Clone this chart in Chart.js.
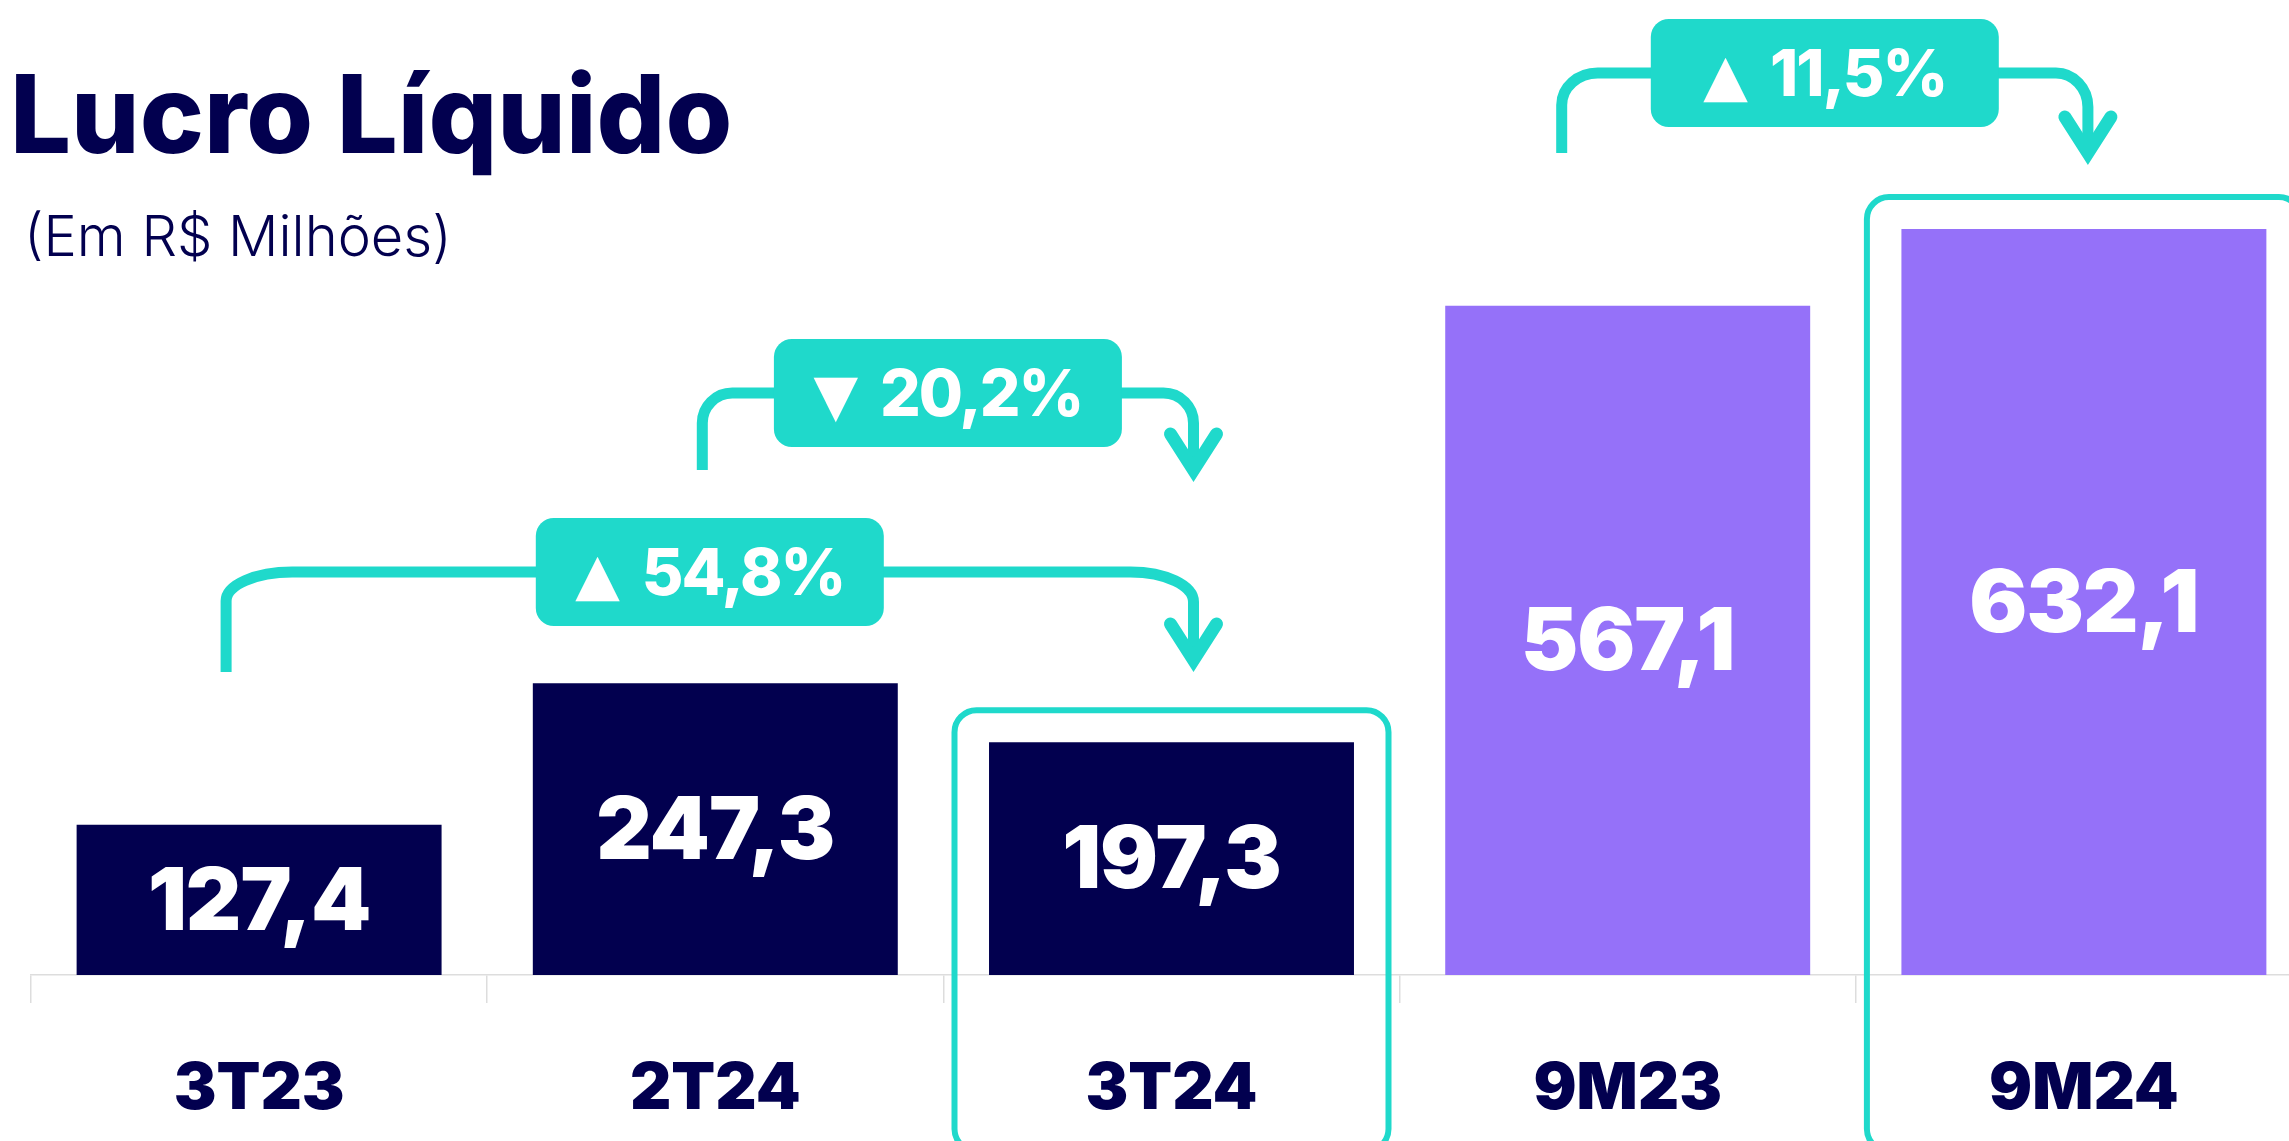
<!DOCTYPE html>
<html>
<head>
<meta charset="utf-8">
<script src="https://cdn.jsdelivr.net/npm/chart.js@4.4.1/dist/chart.umd.min.js"></script>
<style>
html, body { margin: 0; padding: 0; background: #fff; overflow: hidden; }
canvas { display: block; }
</style>
</head>
<body>
<canvas id="lucro" width="2320" height="1141"></canvas>
<script>
// dados
const periodos = ['3T23', '2T24', '3T24', '9M23', '9M24'];
const lucro = [127.4, 247.3, 197.3, 567.1, 632.1];
const destaques = [2, 4];
const variacoes = [
    { de: 0, para: 2, seta: '▲', texto: '54,8%' },
    { de: 1, para: 2, seta: '▼', texto: '20,2%' },
    { de: 3, para: 4, seta: '▲', texto: '11,5%' }
];

const NAVY = '#02004f';
const TEAL = '#1fd9cb';
const coresBarras = ['#02004f', '#02004f', '#02004f', '#9571f9', '#9571f9'];

const fmt = v => v.toFixed(1).replace('.', ',');

// geometria dos conectores (px)
const geo = [
    { dxL: -33, dxR: 22, yLine: 572, yStart: 672, yTip: 672, rL: [66, 29], rR: [63, 30] },
    { dxL: -13, dxR: 22, yLine: 393, yStart: 470, yTip: 482, rL: [30, 30], rR: [30, 30] },
    { dxL: -66, dxR: 4, yLine: 73, yStart: 153, yTip: 165, rL: [36, 32], rR: [32, 34] }
];

function conector(ctx, xl, xr, g) {
    const k = 0.4477;
    ctx.save();
    ctx.strokeStyle = TEAL;
    ctx.lineWidth = 11;
    ctx.lineCap = 'butt';
    ctx.beginPath();
    ctx.moveTo(xl, g.yStart);
    ctx.lineTo(xl, g.yLine + g.rL[1]);
    ctx.bezierCurveTo(xl, g.yLine + g.rL[1] * k, xl + g.rL[0] * k, g.yLine, xl + g.rL[0], g.yLine);
    ctx.lineTo(xr - g.rR[0], g.yLine);
    ctx.bezierCurveTo(xr - g.rR[0] * k, g.yLine, xr, g.yLine + g.rR[1] * k, xr, g.yLine + g.rR[1]);
    ctx.lineTo(xr, g.yTip - 12);
    ctx.stroke();
    ctx.lineWidth = 13;
    ctx.lineCap = 'round';
    ctx.lineJoin = 'miter';
    ctx.beginPath();
    ctx.moveTo(xr - 23, g.yTip - 48);
    ctx.lineTo(xr, g.yTip - 12);
    ctx.lineTo(xr + 23, g.yTip - 48);
    ctx.stroke();
    ctx.restore();
}

const extras = {
    id: 'extras',
    afterDatasetsDraw(chart) {
        const ctx = chart.ctx;
        const meta = chart.getDatasetMeta(0);
        ctx.save();
        ctx.fillStyle = '#fff';
        ctx.font = '900 86px Inter';
        ctx.letterSpacing = '-1px';
        ctx.textAlign = 'center';
        ctx.textBaseline = 'middle';
        meta.data.forEach((bar, i) => {
            ctx.fillText(fmt(lucro[i]), bar.x, (bar.y + bar.base) / 2 + 4);
        });
        ctx.restore();
    },
    afterDraw(chart) {
        const ctx = chart.ctx;
        const meta = chart.getDatasetMeta(0);

        // molduras de destaque
        ctx.save();
        ctx.strokeStyle = TEAL;
        ctx.lineWidth = 6;
        destaques.forEach(i => {
            const bar = meta.data[i];
            const top = bar.y - 32;
            ctx.beginPath();
            ctx.roundRect(bar.x - 217, top, 434, chart.height + 10 - top, 22);
            ctx.stroke();
        });
        ctx.restore();

        // variacoes
        variacoes.forEach((v, n) => {
            const g = geo[n];
            const xl = meta.data[v.de].x + g.dxL;
            const xr = meta.data[v.para].x + g.dxR;
            conector(ctx, xl, xr, g);
            const cx = (xl + xr) / 2;
            ctx.save();
            ctx.fillStyle = TEAL;
            ctx.beginPath();
            ctx.roundRect(cx - 174, g.yLine - 54, 348, 108, 18);
            ctx.fill();
            ctx.fillStyle = '#fff';
            ctx.textBaseline = 'alphabetic';
            ctx.textAlign = 'left';
            ctx.font = '800 64px Inter';
            ctx.letterSpacing = '-2px';
            const wTxt = ctx.measureText(v.texto).width;
            ctx.letterSpacing = '0px';
            ctx.font = '58px DejaVu Sans';
            const wSeta = ctx.measureText(v.seta).width;
            const gap = 22;
            const x0 = cx - (wTxt + wSeta + gap) / 2;
            ctx.fillText(v.seta, x0, g.yLine + 22);
            ctx.font = '800 64px Inter';
            ctx.letterSpacing = '-2px';
            ctx.fillText(v.texto, x0 + wSeta + gap, g.yLine + 23);
            ctx.restore();
        });

        // titulo
        ctx.save();
        ctx.fillStyle = NAVY;
        ctx.textAlign = 'left';
        ctx.textBaseline = 'alphabetic';
        ctx.font = '800 108px Inter';
        ctx.fillText('Lucro Líquido', 10, 153);
        ctx.font = '300 56px Inter';
        ctx.fillText('(Em R$ Milhões)', 24, 256);
        ctx.restore();
    }
};

const ctx = document.getElementById('lucro').getContext('2d');
const grafico = new Chart(ctx, {
    type: 'bar',
    data: {
        labels: periodos,
        datasets: [{
            label: 'Lucro Líquido',
            data: lucro,
            backgroundColor: coresBarras,
            borderWidth: 0,
            barPercentage: 0.8,
            categoryPercentage: 1
        }]
    },
    options: {
        responsive: false,
        animation: false,
        devicePixelRatio: 1,
        layout: { padding: { top: 31, left: 31, right: 8, bottom: 0 } },
        plugins: {
            legend: { display: false },
            tooltip: { enabled: false }
        },
        scales: {
            y: { display: false, min: 0, max: 800 },
            x: {
                afterFit: scale => { scale.height = 166; },
                grid: {
                    drawOnChartArea: false,
                    drawTicks: true,
                    tickLength: 28,
                    color: '#dddddd',
                    lineWidth: 1.5
                },
                border: { display: true, color: '#dddddd', width: 1.5 },
                ticks: {
                    color: NAVY,
                    padding: 48,
                    font: { family: 'Inter', size: 64, weight: '900' }
                }
            }
        }
    },
    plugins: [extras]
});
</script>
</body>
</html>
